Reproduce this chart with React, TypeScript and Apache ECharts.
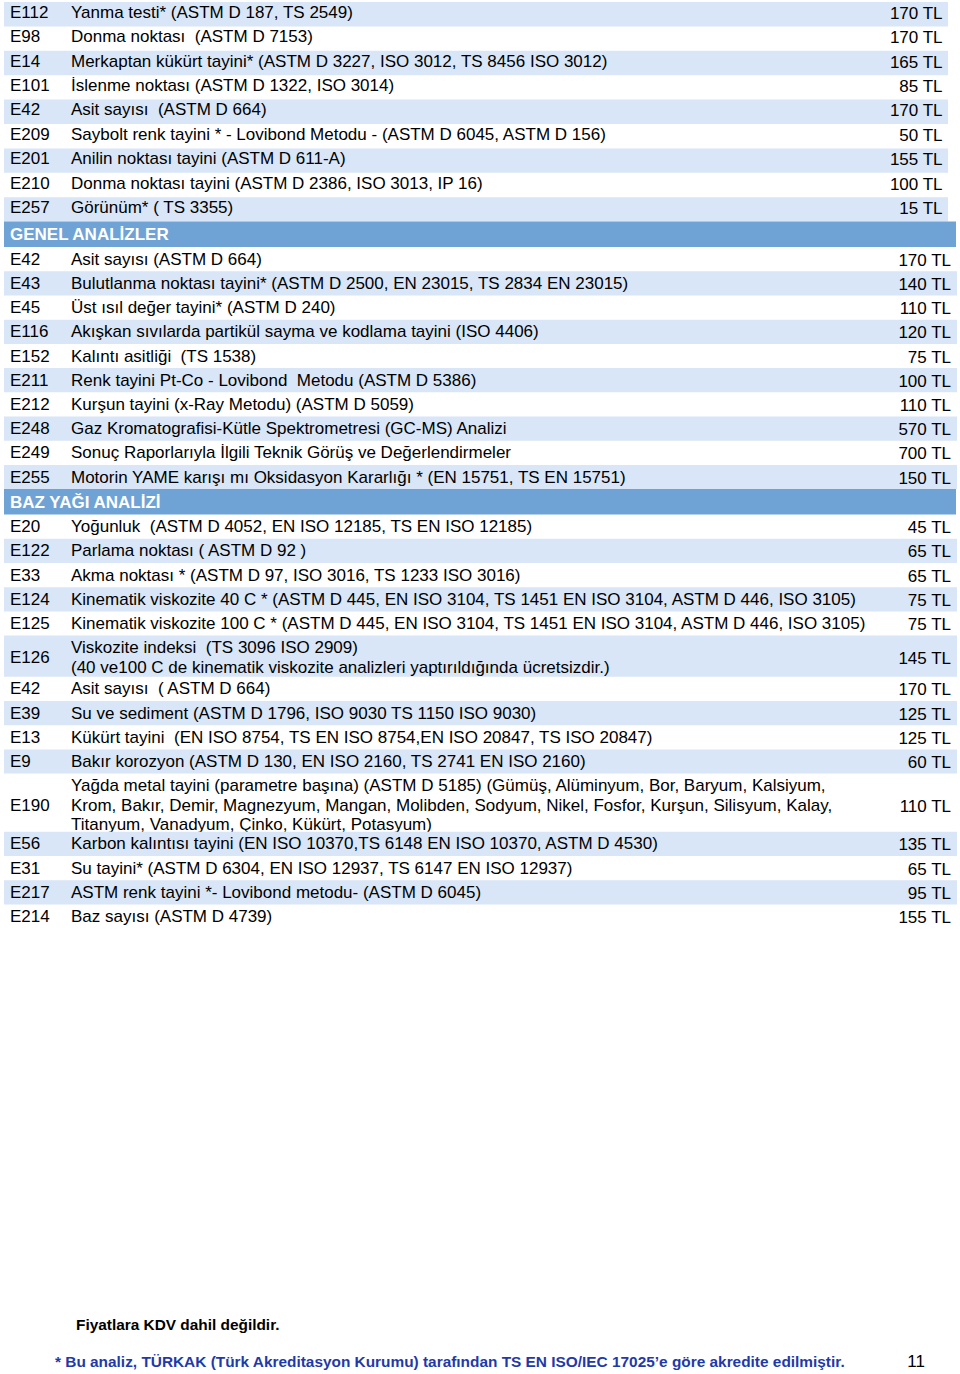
import React, { useEffect, useRef } from "react";
import * as echarts from "echarts";

const sectionTitles = ["", "GENEL ANALİZLER", "BAZ YAĞI ANALİZİ"];

const s1Codes = ["E112", "E98", "E14", "E101", "E42", "E209", "E201", "E210", "E257"];
const s1Names = [
  "Yanma testi* (ASTM D 187, TS 2549)",
  "Donma noktası  (ASTM D 7153)",
  "Merkaptan kükürt tayini* (ASTM D 3227, ISO 3012, TS 8456 ISO 3012)",
  "İslenme noktası (ASTM D 1322, ISO 3014)",
  "Asit sayısı  (ASTM D 664)",
  "Saybolt renk tayini * - Lovibond Metodu - (ASTM D 6045, ASTM D 156)",
  "Anilin noktası tayini (ASTM D 611-A)",
  "Donma noktası tayini (ASTM D 2386, ISO 3013, IP 16)",
  "Görünüm* ( TS 3355)",
];
const s1Prices = [170, 170, 165, 85, 170, 50, 155, 100, 15];

const s2Codes = ["E42", "E43", "E45", "E116", "E152", "E211", "E212", "E248", "E249", "E255"];
const s2Names = [
  "Asit sayısı (ASTM D 664)",
  "Bulutlanma noktası tayini* (ASTM D 2500, EN 23015, TS 2834 EN 23015)",
  "Üst ısıl değer tayini* (ASTM D 240)",
  "Akışkan sıvılarda partikül sayma ve kodlama tayini (ISO 4406)",
  "Kalıntı asitliği  (TS 1538)",
  "Renk tayini Pt-Co - Lovibond  Metodu (ASTM D 5386)",
  "Kurşun tayini (x-Ray Metodu) (ASTM D 5059)",
  "Gaz Kromatografisi-Kütle Spektrometresi (GC-MS) Analizi",
  "Sonuç Raporlarıyla İlgili Teknik Görüş ve Değerlendirmeler",
  "Motorin YAME karışı mı Oksidasyon Kararlığı * (EN 15751, TS EN 15751)",
];
const s2Prices = [170, 140, 110, 120, 75, 100, 110, 570, 700, 150];

const s3Codes = ["E20", "E122", "E33", "E124", "E125", "E126", "E42", "E39", "E13", "E9", "E190", "E56", "E31", "E217", "E214"];
const s3Names = [
  "Yoğunluk  (ASTM D 4052, EN ISO 12185, TS EN ISO 12185)",
  "Parlama noktası ( ASTM D 92 )",
  "Akma noktası * (ASTM D 97, ISO 3016, TS 1233 ISO 3016)",
  "Kinematik viskozite 40 C * (ASTM D 445, EN ISO 3104, TS 1451 EN ISO 3104, ASTM D 446, ISO 3105)",
  "Kinematik viskozite 100 C * (ASTM D 445, EN ISO 3104, TS 1451 EN ISO 3104, ASTM D 446, ISO 3105)",
  "Viskozite indeksi  (TS 3096 ISO 2909)\n(40 ve100 C de kinematik viskozite analizleri yaptırıldığında ücretsizdir.)",
  "Asit sayısı  ( ASTM D 664)",
  "Su ve sediment (ASTM D 1796, ISO 9030 TS 1150 ISO 9030)",
  "Kükürt tayini  (EN ISO 8754, TS EN ISO 8754,EN ISO 20847, TS ISO 20847)",
  "Bakır korozyon (ASTM D 130, EN ISO 2160, TS 2741 EN ISO 2160)",
  "Yağda metal tayini (parametre başına) (ASTM D 5185) (Gümüş, Alüminyum, Bor, Baryum, Kalsiyum,\nKrom, Bakır, Demir, Magnezyum, Mangan, Molibden, Sodyum, Nikel, Fosfor, Kurşun, Silisyum, Kalay,\nTitanyum, Vanadyum, Çinko, Kükürt, Potasyum)",
  "Karbon kalıntısı tayini (EN ISO 10370,TS 6148 EN ISO 10370, ASTM D 4530)",
  "Su tayini* (ASTM D 6304, EN ISO 12937, TS 6147 EN ISO 12937)",
  "ASTM renk tayini *- Lovibond metodu- (ASTM D 6045)",
  "Baz sayısı (ASTM D 4739)",
];
const s3Prices = [45, 65, 65, 75, 75, 145, 170, 125, 125, 60, 110, 135, 65, 95, 155];

const noteText = "Fiyatlara KDV dahil değildir.";
const accreditText =
  "* Bu analiz, TÜRKAK (Türk Akreditasyon Kurumu) tarafından TS EN ISO/IEC 17025’e göre akredite edilmiştir.";
const pageNumber = "11";

const FONT = "'Liberation Sans', Arial, sans-serif";
const STRIPE = "#d9e6f7";
const HEADER = "#6fa3d5";

export default function App() {
  const ref = useRef<HTMLDivElement>(null);

  useEffect(() => {
    if (!ref.current) return;
    const chart = echarts.init(ref.current, null, { renderer: "svg" });

    const sections = [
      { codes: s1Codes, names: s1Names, prices: s1Prices, shadeParity: 0, right: 948, priceX: 942.5, row: 24.4, offset: -2 },
      { codes: s2Codes, names: s2Names, prices: s2Prices, shadeParity: 1, right: 957, priceX: 951, row: 24.2, offset: 0 },
      { codes: s3Codes, names: s3Names, prices: s3Prices, shadeParity: 1, right: 957, priceX: 951, row: 24.2, offset: 0 },
    ];

    const EXTRA = 17;
    const HEADER_H = 25.5;
    const LINE_H = 19.6;
    const SIZE = 17;

    const elements: any[] = [];
    let y = 2;
    sections.forEach((sec, si) => {
      if (sectionTitles[si]) {
        elements.push({
          type: "rect",
          shape: { x: 4, y: y, width: 952, height: HEADER_H },
          style: { fill: HEADER },
        });
        elements.push({
          type: "text",
          x: 10,
          y: y + HEADER_H / 2 + 0.5,
          style: {
            text: sectionTitles[si],
            font: `bold ${SIZE}px ${FONT}`,
            fill: "#ffffff",
            textVerticalAlign: "middle",
          },
        });
        y += HEADER_H;
      }
      sec.codes.forEach((code, i) => {
        const lines = sec.names[i].split("\n");
        const n = lines.length;
        const h = sec.row + (n - 1) * EXTRA;
        const firstY = y + sec.row / 2 + sec.offset;
        const midY = firstY + ((n - 1) * LINE_H) / 2;
        if (i % 2 === sec.shadeParity) {
          elements.push({
            type: "rect",
            shape: { x: 4, y: y, width: sec.right - 4, height: h },
            style: { fill: STRIPE },
          });
        }
        elements.push({
          type: "text",
          x: 10,
          y: midY,
          style: { text: code, font: `${SIZE}px ${FONT}`, fill: "#000", textVerticalAlign: "middle" },
        });
        lines.forEach((ln, li) => {
          elements.push({
            type: "text",
            x: 71,
            y: firstY + li * LINE_H,
            style: {
              text: ln,
              font: `${SIZE}px ${FONT}`,
              fill: "#000",
              textVerticalAlign: "middle",
            },
          });
        });
        elements.push({
          type: "text",
          x: sec.priceX,
          y: midY + 1,
          style: {
            text: `${sec.prices[i]} TL`,
            font: `${SIZE}px ${FONT}`,
            fill: "#000",
            textAlign: "right",
            textVerticalAlign: "middle",
          },
        });
        y += h;
      });
    });

    elements.push({
      type: "text",
      x: 76,
      y: 1324,
      style: { text: noteText, font: `bold 15.4px ${FONT}`, fill: "#000", textVerticalAlign: "middle" },
    });
    elements.push({
      type: "text",
      x: 55,
      y: 1361,
      style: { text: accreditText, font: `bold 15.4px ${FONT}`, fill: "#1f3aa8", textVerticalAlign: "middle" },
    });
    elements.push({
      type: "text",
      x: 925,
      y: 1361,
      style: { text: pageNumber, font: `${SIZE}px ${FONT}`, fill: "#000", textAlign: "right", textVerticalAlign: "middle" },
    });

    chart.setOption({
      animation: false,
      backgroundColor: "#ffffff",
      graphic: { elements },
    });

    return () => chart.dispose();
  }, []);

  return (
    <div
      ref={ref}
      style={{ position: "absolute", left: 0, top: 0, width: 960, height: 1374, background: "#fff" }}
    />
  );
}
